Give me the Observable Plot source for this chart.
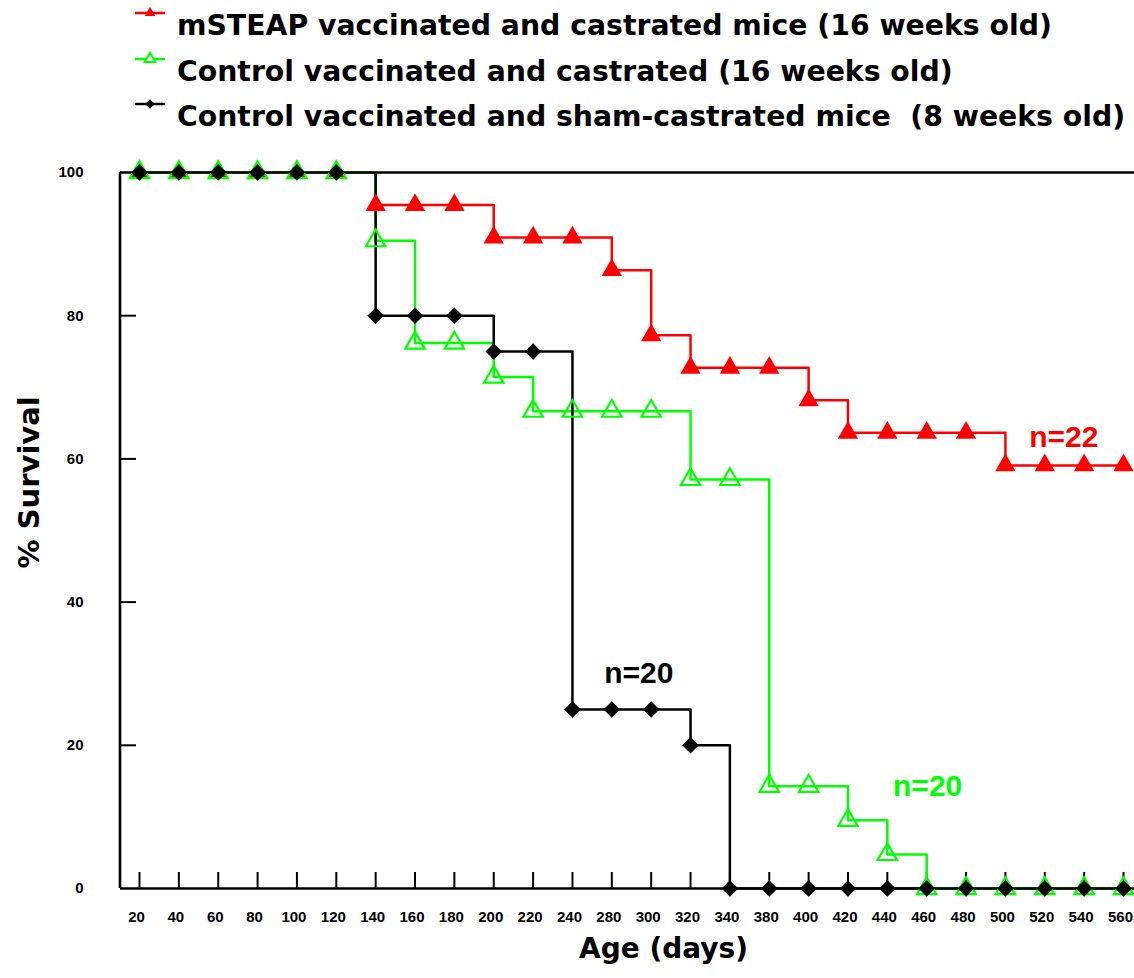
<!DOCTYPE html>
<html><head><meta charset="utf-8">
<script src="https://cdn.jsdelivr.net/npm/d3@7"></script>
<script src="https://cdn.jsdelivr.net/npm/@observablehq/plot@0.6"></script>
<style>
body{margin:0;background:#fff;width:1134px;height:978px;overflow:hidden;position:relative;}
#legend{position:relative;height:140px;}
.icon{position:absolute;left:130px;}
.lt{position:absolute;left:177px;font-family:"DejaVu Sans";font-weight:bold;font-size:28.3px;white-space:pre;line-height:34px;color:#000;}
#chart svg{display:block;}
</style></head><body>
<div id="legend"></div>
<div id="chart"></div>
<script>
// Categorical age axis (equally spaced, as in the original)
const ages = ["20","40","60","80","100","120","140","160","180","200","220","240","280","300","320","340","380","400","420","440","460","480","500","520","540","560"];
const mSteap = [100,100,100,100,100,100,95.45,95.45,95.45,90.91,90.91,90.91,86.36,77.27,72.73,72.73,72.73,68.18,63.64,63.64,63.64,63.64,59.09,59.09,59.09,59.09];
const controlCastrated = [100,100,100,100,100,100,90.48,76.19,76.19,71.43,66.67,66.67,66.67,66.67,57.14,57.14,14.29,14.29,9.52,4.76,0,0,0,0,0,0];
const controlSham = [100,100,100,100,100,100,80,80,80,75,75,25,25,25,20,0,0,0,0,0,0,0,0,0,0,0];
const seriesNames = [
  "mSTEAP vaccinated and castrated mice (16 weeks old)",
  "Control vaccinated and castrated (16 weeks old)",
  "Control vaccinated and sham-castrated mice  (8 weeks old)"
];
const seriesColors = ["#ff0000", "#00ff00", "#000000"];
const yTicks = [0, 20, 40, 60, 80, 100];
const nLabels = ["n=22", "n=20", "n=20"];
const nLabelAge = ["520", "460", "280"];
const nLabelValue = [63, 14.2, 30];

const toRows = vals => ages.map((a, i) => ({age: a, v: vals[i]}));
const red = toRows(mSteap), green = toRows(controlCastrated), black = toRows(controlSham);
const nRow = i => [{t: nLabels[i], age: nLabelAge[i], v: nLabelValue[i]}];

// Legend
const legend = d3.select("#legend");
const rowTop = [0, 45.5, 91];
seriesNames.forEach((name, i) => {
  const svg = legend.append("svg").attr("class", "icon").attr("width", 40).attr("height", 20)
    .style("top", (3 + rowTop[i]) + "px");
  svg.append("line").attr("x1", 5).attr("x2", 35).attr("y1", 10).attr("y2", 10)
    .attr("stroke", seriesColors[i]).attr("stroke-width", 2.5);
  const sym = i === 2 ? d3.symbolDiamond2 : d3.symbolTriangle;
  const p = svg.append("path").attr("transform", "translate(20,10)")
    .attr("d", d3.symbol(sym, i === 2 ? 55 : 50)());
  if (i === 1) p.attr("fill", "#fff").attr("stroke", seriesColors[i]).attr("stroke-width", 2);
  else p.attr("fill", seriesColors[i]);
  legend.append("div").attr("class", "lt").style("top", (9 + rowTop[i]) + "px").text(name);
});

const W = 1134, H = 838, mL = 120, mT = 32, mB = 90;
const frameW = W - mL, frameH = H - mT - mB;
const tickFont = {fontFamily: "Liberation Sans", fontWeight: "bold", fontSize: 15, fill: "#000"};
const nFont = {fontFamily: "Liberation Sans", fontWeight: "bold", fontSize: 30};

const chart = Plot.plot({
  width: W, height: H,
  marginLeft: mL, marginRight: 0, marginTop: mT, marginBottom: mB,
  style: {background: "#fff"},
  x: {type: "point", domain: ages, range: [139, 1123], padding: 0, round: false, axis: null},
  y: {domain: [0, 100], range: [H - mB, mT], axis: null},
  marks: [
    // axes and frame lines
    Plot.ruleY([0, 100], {stroke: "#000", strokeWidth: 2.6}),
    Plot.ruleX([ages[0]], {dx: -19.5, stroke: "#000", strokeWidth: 2.6}),
    Plot.ruleX(ages, {insetTop: frameH - 16, stroke: "#000", strokeWidth: 2}),
    Plot.ruleY(yTicks.slice(1, -1), {insetRight: frameW - 16, stroke: "#000", strokeWidth: 2}),
    Plot.text(yTicks, {y: d => d, text: d => String(d), frameAnchor: "left", dx: -37, textAnchor: "end", ...tickFont}),
    Plot.text(ages, {x: d => d, text: d => d, frameAnchor: "bottom", dx: -3, dy: 33, ...tickFont}),
    // survival curves
    Plot.line(red, {x: "age", y: "v", stroke: seriesColors[0], strokeWidth: 2.5, curve: "step-after"}),
    Plot.line(green, {x: "age", y: "v", stroke: seriesColors[1], strokeWidth: 2.5, curve: "step-after"}),
    Plot.line(black, {x: "age", y: "v", stroke: seriesColors[2], strokeWidth: 2.5, curve: "step-after"}),
    Plot.dot(red, {x: "age", y: "v", symbol: "triangle", r: 7.6, fill: seriesColors[0], stroke: "none"}),
    Plot.dot(green, {x: "age", y: "v", symbol: "triangle", r: 7.2, fill: "none", stroke: seriesColors[1], strokeWidth: 2.2}),
    Plot.dot(black, {x: "age", y: "v", symbol: "diamond2", r: 7.5, fill: seriesColors[2], stroke: "none"}),
    // n labels
    Plot.text(nRow(0), {x: "age", y: "v", text: "t", fill: seriesColors[0], dx: 19, ...nFont}),
    Plot.text(nRow(1), {x: "age", y: "v", text: "t", fill: seriesColors[1], dx: 1, ...nFont}),
    Plot.text(nRow(2), {x: "age", y: "v", text: "t", fill: seriesColors[2], dx: 27, ...nFont}),
    // axis titles
    Plot.text(["% Survival"], {frameAnchor: "left", dx: -91, dy: 38, rotate: -90, fontFamily: "DejaVu Sans", fontWeight: "bold", fontSize: 29, fill: "#000"}),
    Plot.text(["Age (days)"], {frameAnchor: "bottom", dx: 36, dy: 69, fontFamily: "DejaVu Sans", fontWeight: "bold", fontSize: 28, fill: "#000"})
  ]
});
document.getElementById("chart").appendChild(chart);
</script>
</body></html>
